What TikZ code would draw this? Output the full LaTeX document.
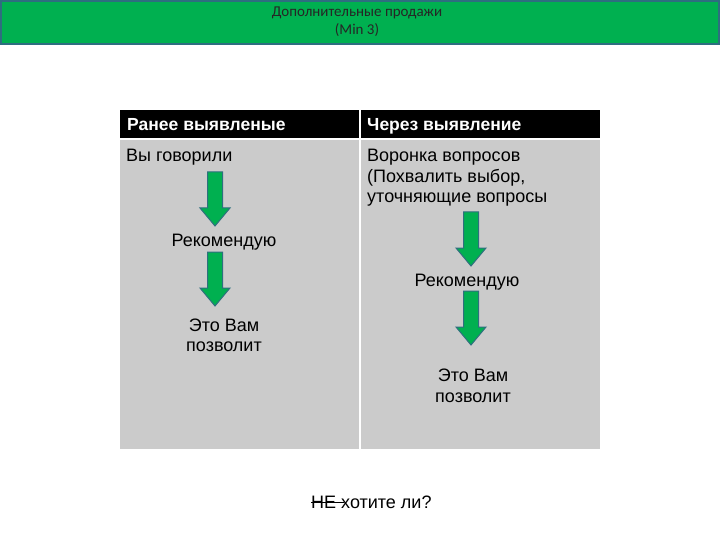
\documentclass[tikz,border=0pt]{standalone}
\usepackage{fontspec}
\setmainfont{Liberation Sans}
\newfontfamily\bannerfont{Carlito}
\usepackage{xcolor}
\definecolor{bannergreen}{HTML}{00B050}
\definecolor{bannerborder}{HTML}{2E6E80}
\definecolor{cellgrey}{HTML}{CBCBCB}
\definecolor{arrowedge}{HTML}{2F6F7F}
\begin{document}
\begin{tikzpicture}[x=1pt,y=-1pt,
  hdr/.style={anchor=base west,text=white,font=\fontsize{17.5}{20}\selectfont\bfseries,inner sep=0pt},
  body/.style={font=\fontsize{18}{20}\selectfont,inner sep=0pt},
  banner/.style={font=\bannerfont\fontsize{15}{17}\selectfont,text=black!85,inner sep=0pt}]
\useasboundingbox (0,0) rectangle (720,540);
\fill[white] (0,0) rectangle (720,540);
% banner
\draw[fill=bannergreen,draw=bannerborder,line width=2pt] (1,1) rectangle (719,44);
\node[banner] (t1) at (357,13) {Дополнительные продажи};
\node[banner] (t2) at (357,30) {(Min 3)};
% table
\fill[black] (120,110) rectangle (600,138);
\fill[cellgrey] (120,140) rectangle (359,449);
\fill[cellgrey] (361,140) rectangle (600,449);
\draw[white,line width=1.5pt] (360,110) -- (360,138);
\node[hdr] (h1) at (127,130.5) {Ранее выявленые};
\node[hdr] (h2) at (367,130.5) {Через выявление};
% left column
\node[body,anchor=base west] (l0) at (126,162) {Вы говорили};
\node[body,anchor=base] (l1) at (224,246.5) {Рекомендую};
\node[body,anchor=base] (l2a) at (224,331.5) {Это Вам};
\node[body,anchor=base] (l2b) at (224,351) {позволит};
% right column
\node[body,anchor=base west] (r0a) at (367,162) {Воронка вопросов};
\node[body,anchor=base west] (r0b) at (367,183) {(Похвалить выбор,};
\node[body,anchor=base west] (r0c) at (367,203) {уточняющие вопросы};
\node[body,anchor=base] (r1) at (467,286.5) {Рекомендую};
\node[body,anchor=base] (r2a) at (473,381.5) {Это Вам};
\node[body,anchor=base] (r2b) at (473,402) {позволит};
% arrows
\tikzset{bigarrow/.pic={
  \draw[fill=bannergreen,draw=arrowedge,line width=1pt,line join=miter]
    (-7.5,0) -- (7.5,0) -- (7.5,36) -- (15,36) -- (0,54) -- (-15,36) -- (-7.5,36) -- cycle;}}
\pic at (215,172) {bigarrow};
\pic at (215,252) {bigarrow};
\pic at (471,212) {bigarrow};
\pic at (471,291) {bigarrow};
% bottom text
\node[body,anchor=base west] (q) at (311,508) {НЕ хотите ли?};
\draw[black,line width=0.9pt] (311,502) -- (344,502);
\end{tikzpicture}
\end{document}
